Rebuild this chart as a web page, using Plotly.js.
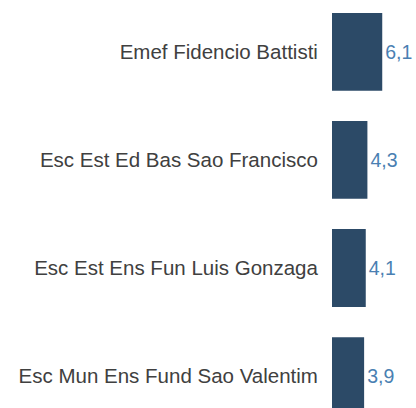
<!DOCTYPE html>
<html>
<head>
<meta charset="utf-8">
<script src="https://cdn.plot.ly/plotly-3.0.1.min.js"></script>
<style>html,body{margin:0;padding:0;background:#fff;}#chart{width:416px;height:408px;}</style>
</head>
<body>
<div id="chart"></div>
<script>
const schools = ["Emef Fidencio Battisti", "Esc Est Ed Bas Sao Francisco", "Esc Est Ens Fun Luis Gonzaga", "Esc Mun Ens Fund Sao Valentim"];
const values = [6.1, 4.3, 4.1, 3.9];

const trace = {
  type: 'bar',
  orientation: 'h',
  y: schools,
  x: values,
  width: 0.72,
  marker: {color: '#2c4a67'},
  texttemplate: '%{x:.1f}',
  textposition: 'outside',
  cliponaxis: false,
  outsidetextfont: {color: '#4a7fb2', size: 19.5, family: 'Liberation Sans, Arial, sans-serif'},
  hoverinfo: 'none'
};

const layout = {
  width: 416, height: 408,
  margin: {l: 332, r: 0, t: 0, b: 0, pad: 0},
  paper_bgcolor: '#fff', plot_bgcolor: '#fff',
  separators: ',.',
  showlegend: false,
  font: {family: 'Liberation Sans, Arial, sans-serif', size: 20.5, color: '#404040'},
  xaxis: {range: [0, 10.2], visible: false, fixedrange: true},
  yaxis: {
    type: 'category',
    range: [3.296, -0.481],
    showgrid: false, zeroline: false, showline: false,
    ticks: 'outside', ticklen: 9, tickcolor: 'rgba(0,0,0,0)',
    tickfont: {size: 20.5, color: '#404040'},
    automargin: false
  }
};

Plotly.newPlot('chart', [trace], layout, {staticPlot: true, displayModeBar: false});
</script>
</body>
</html>
